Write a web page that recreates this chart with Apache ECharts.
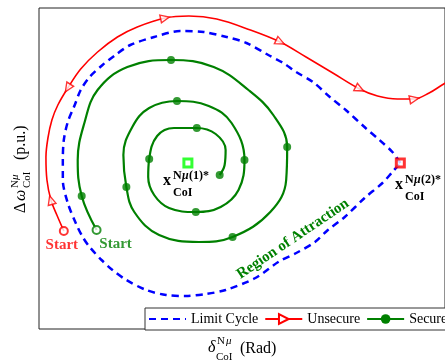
<!DOCTYPE html>
<html><head><meta charset="utf-8">
<script src="https://cdn.jsdelivr.net/npm/echarts@6/dist/echarts.min.js"></script>
<style>html,body{margin:0;padding:0;background:#fff}#c{width:445px;height:363px}</style>
</head><body><div id="c"></div>
<script>
// ---- data (arbitrary phase-plane units) ----
const limitCycle = [[364,166],[356,177],[343,189],[329,201],[309,219],[293,232],[276,247],[259,257],[246,266],[231,274],[209,286],[189,292],[166,297],[142,298],[116,292],[92,284],[77,274],[64,264],[51,252],[42,239],[36,224],[29,207],[25,189],[24,169],[24,149],[29,126],[37,106],[44,92],[51,82],[63,69],[74,59],[88,49],[108,39],[128,34],[148,33],[168,35],[188,39],[218,51],[241,67],[261,77],[278,87],[291,99],[308,112],[328,131],[346,146],[356,157],[364,166]];
const unsecure = [[25,98],[18,114],[12,129],[8,149],[7,172],[9,191],[13,209],[19,224],[29,241],[42,260],[59,277],[79,292],[99,302],[127,311],[151,313],[179,310],[213,299],[243,287],[269,272],[296,256],[323,240],[341,233],[361,230],[378,230],[393,236],[406,244],[416,250]];
const unsecureArrowIdx = [2,8,13,17,20,23];
const unsecureArrowFlip = [0,1,0,0,0,0];
const secure = [[58,99],[43,133],[39,169],[46,207],[59,239],[89,262],[133,269],[176,262],[211,239],[236,214],[250,182],[249,149],[233,117],[195,92],[161,87],[121,94],[96,117],[88,142],[85,174],[94,202],[111,221],[139,228],[171,223],[194,206],[207,169],[201,139],[183,122],[158,117],[131,121],[116,134],[110,152],[111,170],[119,193],[136,201],[159,201],[178,195],[188,179],[187,164],[182,154]];
const secureMarkerIdx = [1,6,10,13,17,21,24,27,31,34,38];
const equilibria = [[150,166],[364,166]];
const legendNames = ['Limit Cycle','Unsecure','Secure'];

const RED = '#ff0000', GREEN = '#008000', BLUE = '#0000ff', LIME = '#00ff00';
const SERIF = '"Liberation Serif","Times New Roman",serif';

const arrowData = unsecureArrowIdx.map((i,k)=>{
  const a = unsecure[i-1], b = unsecure[i+1];
  let ang = Math.atan2(b[1]-a[1], b[0]-a[0])*180/Math.PI - 90;
  if (unsecureArrowFlip[k]) ang += 180;
  return {value: unsecure[i], symbolRotate: ang};
});
const markerData = secureMarkerIdx.map(i=>secure[i]);

function t(x, base, text, size, o){
  o = o || {};
  const font = (o.italic?'italic ':'') + (o.bold?'bold ':'') + size + 'px ' + SERIF;
  return {type:'text', x:x, y: base - 0.34*size,
    style:{text:text, font:font, fill:o.color||'#000', textAlign:o.align||'left', align:o.align||'left',
      textVerticalAlign:'middle', verticalAlign:'middle'}};
}

const chart = echarts.init(document.getElementById('c'), null, {renderer:'canvas'});
chart.setOption({
  animation:false,
  backgroundColor:'#fff',
  grid:{left:39, top:8, width:409, height:321, show:true, borderColor:'#222', borderWidth:1},
  xAxis:{type:'value', min:0, max:409, show:false},
  yAxis:{type:'value', min:0, max:321, show:false},
  legend:{
    data:[{name:legendNames[0], itemStyle:{opacity:0}}, {name:legendNames[1]}, {name:legendNames[2]}],
    left:145, top:308, width:310, padding:[4,10,4,3], itemWidth:37, itemHeight:12, itemGap:6,
    backgroundColor:'#fff', borderColor:'#333', borderWidth:1,
    textStyle:{fontFamily:SERIF, fontSize:14, color:'#000'}, selectedMode:false
  },
  series:[
    {name:legendNames[0], type:'line', data:limitCycle, symbol:'none', smooth:0.3, z:2,
      lineStyle:{color:BLUE, width:2.5, type:[7,5]}, itemStyle:{color:BLUE}},
    {name:legendNames[2], type:'line', data:secure, symbol:'circle', symbolSize:8, showSymbol:false, smooth:0.4, z:3,
      lineStyle:{color:GREEN, width:2.2}, itemStyle:{color:GREEN}},
    {name:legendNames[1], type:'line', data:unsecure, symbol:'triangle', symbolSize:9, symbolRotate:-90, showSymbol:false, smooth:0.35, z:3,
      lineStyle:{color:RED, width:1.6}, itemStyle:{color:'#fff', borderColor:RED, borderWidth:1.5}},
    {name:'secureMarkers', type:'scatter', data:markerData, symbol:'circle', symbolSize:8, z:4,
      itemStyle:{color:GREEN}},
    {name:'arrows', type:'scatter', data:arrowData, symbol:'triangle', symbolSize:[8,9], z:4,
      itemStyle:{color:'#fff', borderColor:RED, borderWidth:1.4}},
    {name:'startRed', type:'scatter', data:[unsecure[0]], symbol:'circle', symbolSize:8, z:5,
      itemStyle:{color:'#fff', borderColor:RED, borderWidth:2},
      label:{show:true, formatter:'Start', position:'bottom', distance:2, offset:[-2,0], color:RED, fontFamily:SERIF, fontWeight:'bold', fontSize:15}},
    {name:'startGreen', type:'scatter', data:[secure[0]], symbol:'circle', symbolSize:8, z:5,
      itemStyle:{color:'#fff', borderColor:GREEN, borderWidth:2},
      label:{show:true, formatter:'Start', position:'bottom', distance:2, offset:[19,0], color:GREEN, fontFamily:SERIF, fontWeight:'bold', fontSize:15}},
    {name:'eq', type:'scatter', data:[
        {value:equilibria[0], itemStyle:{color:'#fff', borderColor:LIME, borderWidth:3}},
        {value:equilibria[1], itemStyle:{color:'#fff', borderColor:RED, borderWidth:3}}],
      symbol:'rect', symbolSize:8, z:6}
  ],
  graphic:[
    t(163,186,'x',16,{bold:true}),
    t(173,180,'N',12,{bold:true}), t(182,180,'μ',12,{bold:true,italic:true}), t(189,180,'(1)*',12,{bold:true}),
    t(173,197,'CoI',12,{bold:true}),
    t(395,190,'x',16,{bold:true}),
    t(405,184,'N',12,{bold:true}), t(414,184,'μ',12,{bold:true,italic:true}), t(421,184,'(2)*',12,{bold:true}),
    t(405,201,'CoI',12,{bold:true}),
    {type:'text', x:293, y:239, rotation:34*Math.PI/180,
      style:{text:'Region of Attraction', font:'bold 15px '+SERIF, fill:GREEN, textAlign:'center', align:'center', textVerticalAlign:'middle', verticalAlign:'middle'}},
    t(208,353,'δ',16,{italic:true}),
    t(217,345,'N',11), t(226,345,'μ',11,{italic:true}),
    t(216,361,'CoI',11),
    t(240,354,'(Rad)',16),
    {type:'group', x:26, y:213, rotation:Math.PI/2, children:[
      t(0,0,'Δ',16), t(12,0,'ω',16,{italic:true}),
      t(25,-7,'N',11), t(33,-7,'μ',11,{italic:true}),
      t(25,5,'CoI',11),
      t(53,0,'(p.u.)',16)
    ]}
  ]
});
</script></body></html>
